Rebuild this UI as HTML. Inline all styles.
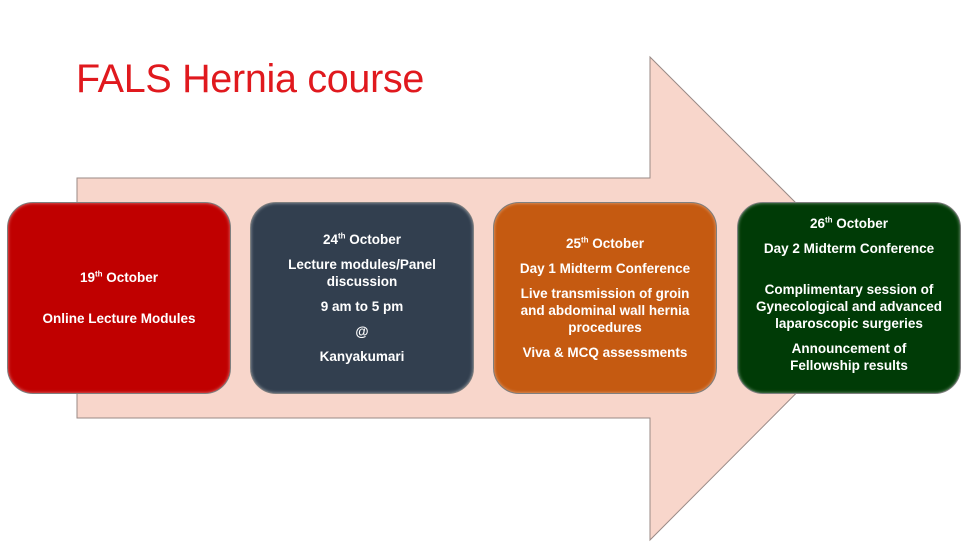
<!DOCTYPE html>
<html><head><meta charset="utf-8"><style>
body{margin:0;width:974px;height:549px;background:#fff;position:relative;overflow:hidden;font-family:"Liberation Sans",sans-serif}
.t{position:absolute;left:76px;top:57px;font-size:39.5px;color:#e0191e;letter-spacing:-0.3px}
.b{position:absolute;top:202px;width:224px;height:192px;border-radius:26px;border:1.5px solid #7f7f7f;box-sizing:border-box;display:flex;flex-direction:column;justify-content:center;align-items:center;text-align:center;color:#fff;font-weight:bold;font-size:13.5px;line-height:17px;box-shadow:inset 0 0 3px rgba(255,255,255,.5)}
.b p{margin:0 0 8px}
.b p:last-child{margin-bottom:0}
sup{font-size:8px;line-height:0}
</style></head><body>
<svg width="974" height="549" style="position:absolute;left:0;top:0">
<polygon points="77,178 650,178 650,57 891,298 650,540 650,418 77,418" fill="#f8d6cb" stroke="#9a8a86" stroke-width="1"/>
</svg>
<div class="t">FALS Hernia course</div>
<div class="b" style="left:7px;background:#c00000"><p style="margin-bottom:24px">19<sup>th</sup> October</p><p>Online Lecture Modules</p></div>
<div class="b" style="left:250px;background:#323f4f"><p>24<sup>th</sup> October</p><p>Lecture modules/Panel<br>discussion</p><p>9 am to 5 pm</p><p>@</p><p>Kanyakumari</p></div>
<div class="b" style="left:493px;background:#c55a11"><p>25<sup>th</sup> October</p><p>Day 1 Midterm Conference</p><p>Live transmission of groin<br>and abdominal wall hernia<br>procedures</p><p>Viva &amp; MCQ assessments</p></div>
<div class="b" style="left:737px;background:#003b06;justify-content:flex-start;padding-top:12px"><p>26<sup>th</sup> October</p><p style="margin-bottom:24px">Day 2 Midterm Conference</p><p>Complimentary session of<br>Gynecological and advanced<br>laparoscopic surgeries</p><p>Announcement of<br>Fellowship results</p></div>
</body></html>
